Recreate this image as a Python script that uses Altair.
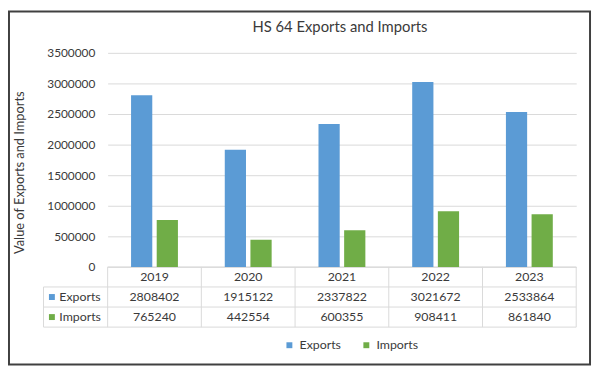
import altair as alt
import pandas as pd

# ---- data ----
years = ["2019", "2020", "2021", "2022", "2023"]
exports = [2808402, 1915122, 2337822, 3021672, 2533864]
imports = [765240, 442554, 600355, 908411, 861840]
series = ["Exports", "Imports"]
colors = ["#5B9BD5", "#70AD47"]
y_ticks = [0, 500000, 1000000, 1500000, 2000000, 2500000, 3000000, 3500000]
rows = ["Year", "Exports", "Imports"]

long_df = pd.DataFrame(
    {"year": years * 2,
     "series": ["Exports"] * len(years) + ["Imports"] * len(years),
     "value": exports + imports}
)
header_df = pd.DataFrame({"year": years, "row": ["Year"] * len(years)})
series_df = pd.DataFrame({"series": series})

# ---- layout constants ----
W = 475
H = 278
BAR_H = 217
LABEL_COL = -65
FONT = "Lato"
TXT = "#3A3A3A"
LINE = "#D9D9D9"

xs = alt.Scale(paddingInner=0, paddingOuter=0)
X = alt.X("year:N", sort=years, scale=xs, axis=None)
row_scale = alt.Scale(domain=rows, range=[BAR_H, H], paddingInner=0, paddingOuter=0)
color_scale = alt.Scale(domain=series, range=colors)
legend = alt.Legend(
    orient="none", legendX=178, legendY=290, direction="horizontal",
    title=None, symbolType="square", symbolSize=36, symbolStrokeWidth=0,
    labelFont=FONT, labelFontSize=12.5, labelColor=TXT, columnPadding=19, padding=0,
)

frame = alt.Chart(alt.Data(values=[{}])).mark_rect(
    fill=None, stroke="#404040", strokeWidth=2
).encode(
    x=alt.value(-100), x2=alt.value(489), y=alt.value(-42), y2=alt.value(316)
)

bars = alt.Chart(long_df).mark_bar().encode(
    x=X,
    xOffset=alt.XOffset("series:N", sort=series,
                        scale=alt.Scale(paddingInner=0.173, paddingOuter=0.913)),
    y=alt.Y("value:Q",
            scale=alt.Scale(domain=[0, 3500000], range=[BAR_H, 0], nice=False),
            axis=alt.Axis(values=y_ticks, format="d", title="Value of Exports and Imports",
                          grid=True, gridColor=LINE, gridWidth=1, domain=False,
                          ticks=False, tickSize=0, labelPadding=13,
                          labelFont=FONT, labelFontSize=12, labelColor=TXT,
                          titleFont=FONT, titleFontSize=13, titleFontWeight="normal",
                          titleColor=TXT, titleX=-89, titleY=121, titleAngle=270,
                          titleAlign="center", titleBaseline="middle")),
    color=alt.Color("series:N", scale=color_scale, legend=legend),
)

Yrow = alt.Y("row:N", scale=row_scale, axis=None)

header_text = alt.Chart(header_df).mark_text(
    font=FONT, fontSize=12.5, color=TXT, baseline="middle", align="center"
).encode(x=X, y=Yrow, text="year:N")

value_text = alt.Chart(long_df).mark_text(
    font=FONT, fontSize=12.5, color=TXT, baseline="middle", align="center"
).encode(
    x=X,
    y=alt.Y("series:N", scale=row_scale, axis=None),
    text=alt.Text("value:Q", format="d"),
)

label_text = alt.Chart(series_df).mark_text(
    font=FONT, fontSize=12.5, color=TXT, baseline="middle", align="left"
).encode(
    x=alt.value(-49),
    y=alt.Y("series:N", scale=row_scale, axis=None),
    text="series:N",
)

squares = alt.Chart(series_df).mark_point(
    shape="square", filled=True, size=36, opacity=1
).encode(
    x=alt.value(-56.5),
    y=alt.Y("series:N", scale=row_scale, axis=None),
    color=alt.Color("series:N", scale=color_scale, legend=legend),
)

h_mid = alt.Chart(series_df).mark_rule(color=LINE, strokeWidth=1).encode(
    x=alt.value(LABEL_COL), x2=alt.value(W),
    y=alt.Y("series:N", scale=row_scale, axis=None, bandPosition=0),
)
h_top = alt.Chart(header_df.head(1)).mark_rule(color=LINE, strokeWidth=1).encode(
    x=alt.value(0), x2=alt.value(W),
    y=alt.Y("row:N", scale=row_scale, axis=None, bandPosition=0),
)
h_bot = alt.Chart(series_df.tail(1)).mark_rule(color=LINE, strokeWidth=1).encode(
    x=alt.value(LABEL_COL), x2=alt.value(W),
    y=alt.Y("series:N", scale=row_scale, axis=None, bandPosition=1),
)
v_lines = alt.Chart(header_df).mark_rule(color=LINE, strokeWidth=1).encode(
    x=alt.X("year:N", sort=years, scale=xs, axis=None, bandPosition=0),
    y=alt.value(BAR_H), y2=alt.value(H),
)
v_right = alt.Chart(header_df.tail(1)).mark_rule(color=LINE, strokeWidth=1).encode(
    x=alt.X("year:N", sort=years, scale=xs, axis=None, bandPosition=1),
    y=alt.value(BAR_H), y2=alt.value(H),
)
v_left = alt.Chart(series_df.head(1)).mark_rule(color=LINE, strokeWidth=1).encode(
    x=alt.value(LABEL_COL),
    y=alt.Y("series:N", scale=row_scale, axis=None, bandPosition=0),
    y2=alt.value(H),
)

chart = alt.layer(
    frame, h_mid, h_top, h_bot, v_lines, v_right, v_left,
    bars, header_text, value_text, label_text, squares,
).resolve_scale(y="independent").properties(
    width=W, height=H,
    padding={"left": 101, "top": 43, "right": 16, "bottom": 40},
    autosize=alt.AutoSizeParams(type="none"),
    title=alt.TitleParams("HS 64 Exports and Imports", anchor="middle", font=FONT,
                          fontSize=15, fontWeight="normal", color=TXT, dx=-2, offset=-25),
).configure_view(stroke=None)

chart.save("out.html", embed_options={"renderer": "svg", "actions": False})
